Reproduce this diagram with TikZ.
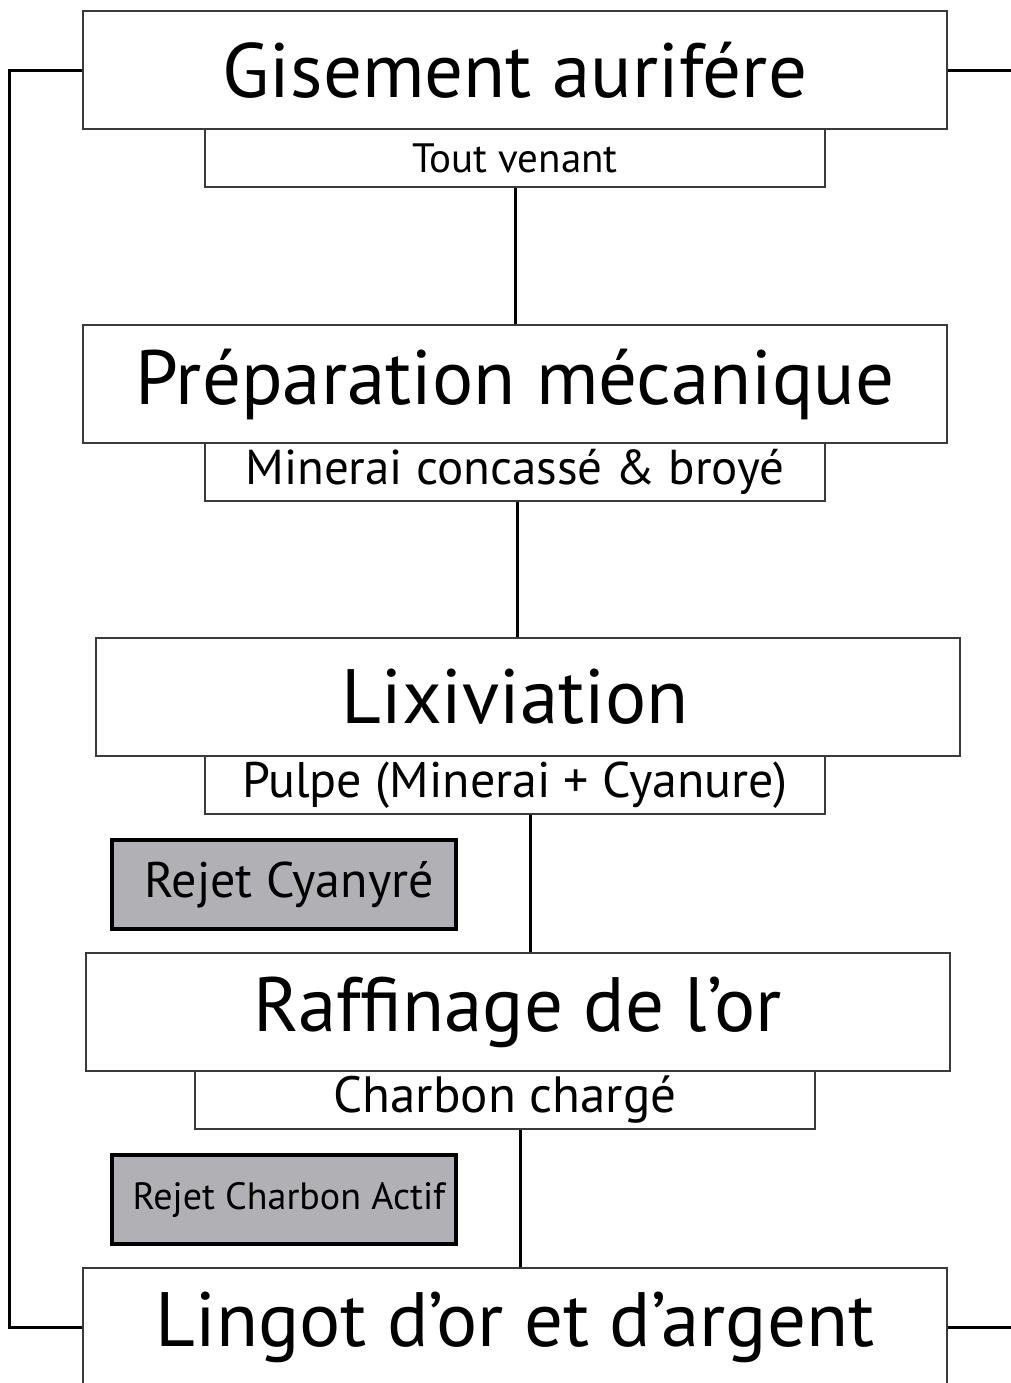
\documentclass[tikz,border=0pt]{standalone}
\usepackage{fontspec}
\setmainfont{PT Sans}
\definecolor{boxline}{RGB}{58,58,58}
\definecolor{rejetfill}{RGB}{177,177,181}
\begin{document}
\begin{tikzpicture}[x=1pt,y=-1pt,
  stage/.style={draw=boxline,line width=2pt,fill=white,inner sep=0pt,
    minimum width=864pt,minimum height=118pt,
    font=\fontsize{77}{82}\selectfont},
  product/.style={draw=boxline,line width=2pt,fill=white,inner sep=0pt,
    minimum width=620pt,minimum height=58pt,
    font=\fontsize{49}{54}\selectfont},
  rejet/.style={draw=black,line width=3.5pt,fill=rejetfill,inner sep=0pt,
    minimum width=344pt,minimum height=89pt},
  flow/.style={draw=black,line width=3pt}]
\useasboundingbox (0,0) rectangle (1011,1383);
\clip (0,0) rectangle (1011,1383);

% process stages and their products
\node[stage] (gis) at (515,70.5) {Gisement aurifére};
\node[product,font=\fontsize{41}{46}\selectfont] (tv) at (515,158) {Tout venant};
\node[stage] (prep) at (515,384) {Préparation mécanique};
\node[product] (minerai) at (515,471.5) {Minerai concassé \& broyé};
\node[stage] (lix) at (528,697) {\hspace*{-26pt}Lixiviation};
\node[product,font=\fontsize{50}{54}\selectfont] (pulpe) at (515,785) {Pulpe (Minerai + Cyanure)};
\node[rejet,font=\fontsize{50}{54}\selectfont] (rejcy) at (284,884.5) {\hspace*{10pt}Rejet Cyanyré};
\node[stage] (raff) at (517.5,1012) {Raffinage de l’or};
\node[product,font=\fontsize{51}{54}\selectfont] (charb) at (505,1100) {Charbon chargé};
\node[rejet,font=\fontsize{38}{42}\selectfont] (rejch) at (284,1199.5) {\hspace*{10pt}Rejet Charbon Actif};
\node[stage] (lingot) at (515,1327) {Lingot d’or et d’argent};

% vertical links between stages
\draw[flow] (tv.south) -- (prep.north);
\draw[flow] ([xshift=2pt]minerai.south) -- ([xshift=2pt]prep.north |- lix.north);
\draw[flow] ([xshift=15pt]pulpe.south) -- ([xshift=12.5pt]raff.north);
\draw[flow] ([xshift=15pt]charb.south) -- ([xshift=5pt]lingot.north);

% side return lines
\coordinate (rt) at (1020,0);
\draw[flow] (gis.west) -- ++(-73,0) |- (lingot.west);
\draw[flow] (gis.east) -- (gis.east -| rt);
\draw[flow] (lingot.east) -- (lingot.east -| rt);
\end{tikzpicture}
\end{document}
